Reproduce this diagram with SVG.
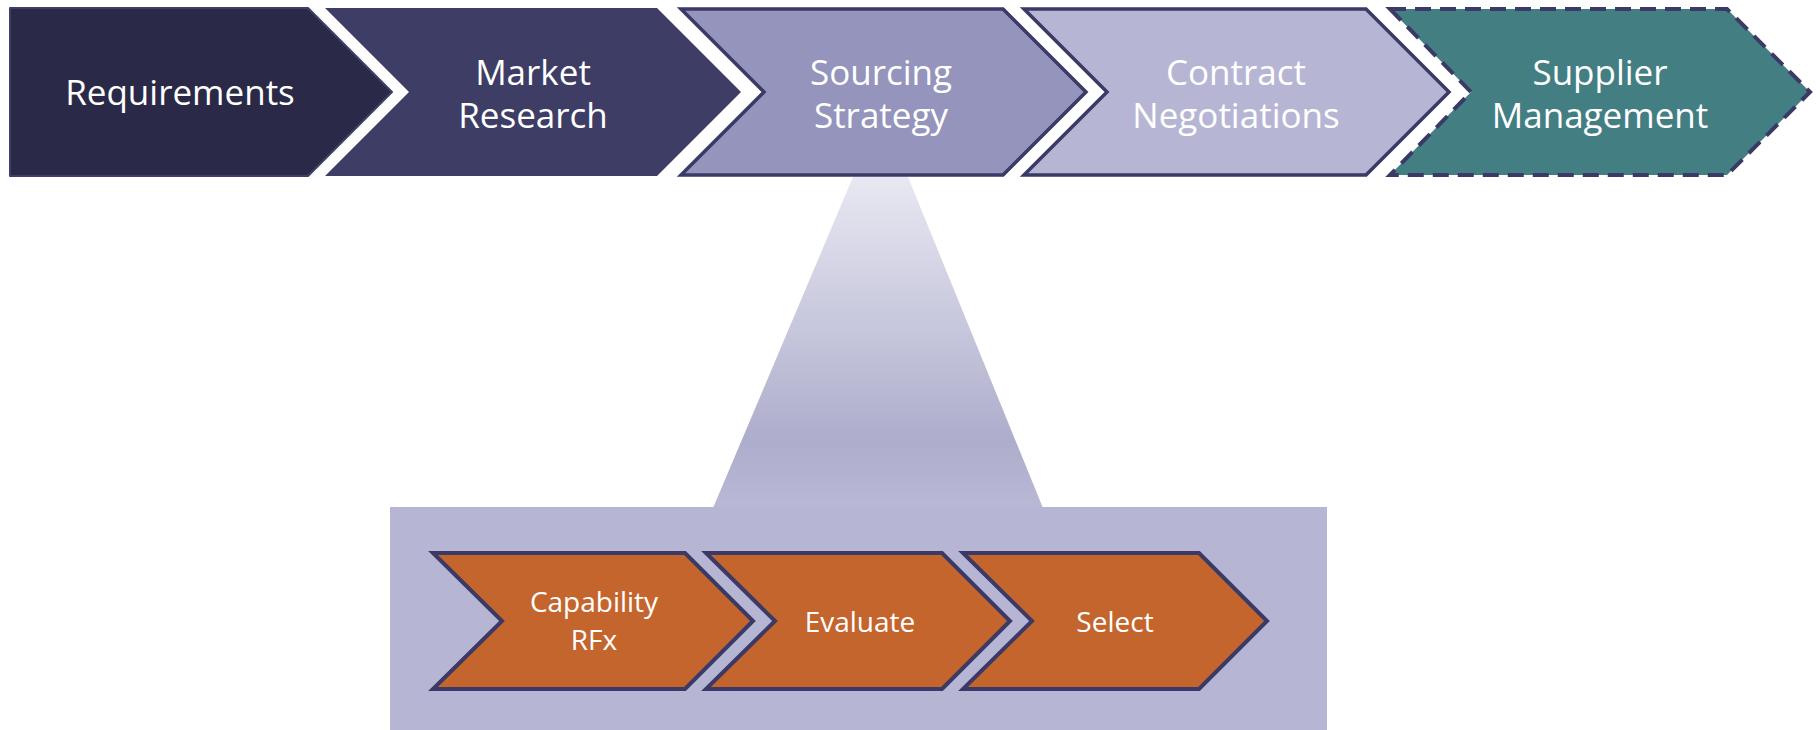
<svg xmlns="http://www.w3.org/2000/svg" width="1820" height="730" viewBox="0 0 1820 730">
  <defs>
    <linearGradient id="beamFill" x1="0" y1="0" x2="0" y2="1">
      <stop offset="0" stop-color="#e8e8f2"/>
      <stop offset="0.8" stop-color="#adadcc"/>
      <stop offset="1" stop-color="#b9b9d6"/>
    </linearGradient>
    <style>
      .lbl { font-family: "Open Sans", "Noto Sans", "DejaVu Sans", sans-serif; fill: #ffffff; text-anchor: middle; }
      .big { font-size: 35px; }
      .small { font-size: 28px; }
      .edge { stroke: #3b3966; stroke-linejoin: miter; }
      .step { fill: #c4652e; stroke: #3b3966; stroke-width: 4; stroke-linejoin: miter; }
    </style>
  </defs>

  <rect width="1820" height="730" fill="#ffffff"/>

  <!-- zoom beam from the Sourcing Strategy stage down to its detail panel -->
  <g id="connectors">
    <polygon points="853,177 908,177 1043,508 713,508" fill="url(#beamFill)"/>
  </g>

  <!-- top-level procurement stages -->
  <g id="requirements">
    <polygon points="10,8 308,8 392,92 308,176 10,176" fill="#2a2a48" stroke="#3f3e69" stroke-width="2" stroke-linejoin="round"/>
    <text class="lbl big" x="180" y="105">Requirements</text>
  </g>

  <g id="market-research">
    <polygon points="325,8 657,8 741,92 657,176 325,176 409,92" fill="#3e3d66"/>
    <text class="lbl big" x="533" y="85">Market</text>
    <text class="lbl big" x="533" y="128">Research</text>
  </g>

  <g id="sourcing-strategy">
    <polygon class="edge" points="681,9 1003,9 1086,92 1003,175 681,175 764,92" fill="#9494bc" stroke-width="3.5"/>
    <text class="lbl big" x="881" y="85">Sourcing</text>
    <text class="lbl big" x="881" y="128">Strategy</text>
  </g>

  <g id="contract-negotiations">
    <polygon class="edge" points="1024,9 1366,9 1449,92 1366,175 1024,175 1107,92" fill="#b6b6d4" stroke-width="3.5"/>
    <text class="lbl big" x="1236" y="85">Contract</text>
    <text class="lbl big" x="1236" y="128">Negotiations</text>
  </g>

  <g id="supplier-management">
    <polygon class="edge" points="1390,9 1727,9 1810,92 1727,175 1390,175 1471,92" fill="#437e83" stroke-width="4" stroke-dasharray="16,9"/>
    <text class="lbl big" x="1600" y="85">Supplier</text>
    <text class="lbl big" x="1600" y="128">Management</text>
  </g>

  <!-- detail panel for the sourcing strategy stage -->
  <g id="sourcing-detail">
    <rect x="390" y="507" width="937" height="223" fill="#b6b6d4"/>
  </g>

  <g id="capability-rfx">
    <polygon class="step" points="433,553 685,553 753,621 685,689 433,689 502,621"/>
    <text class="lbl small" x="594" y="612">Capability</text>
    <text class="lbl small" x="594" y="650">RFx</text>
  </g>

  <g id="evaluate">
    <polygon class="step" points="706,553 942,553 1010,621 942,689 706,689 775,621"/>
    <text class="lbl small" x="860" y="632">Evaluate</text>
  </g>

  <g id="select">
    <polygon class="step" points="963,553 1199,553 1267,621 1199,689 963,689 1032,621"/>
    <text class="lbl small" x="1115" y="632">Select</text>
  </g>
</svg>
